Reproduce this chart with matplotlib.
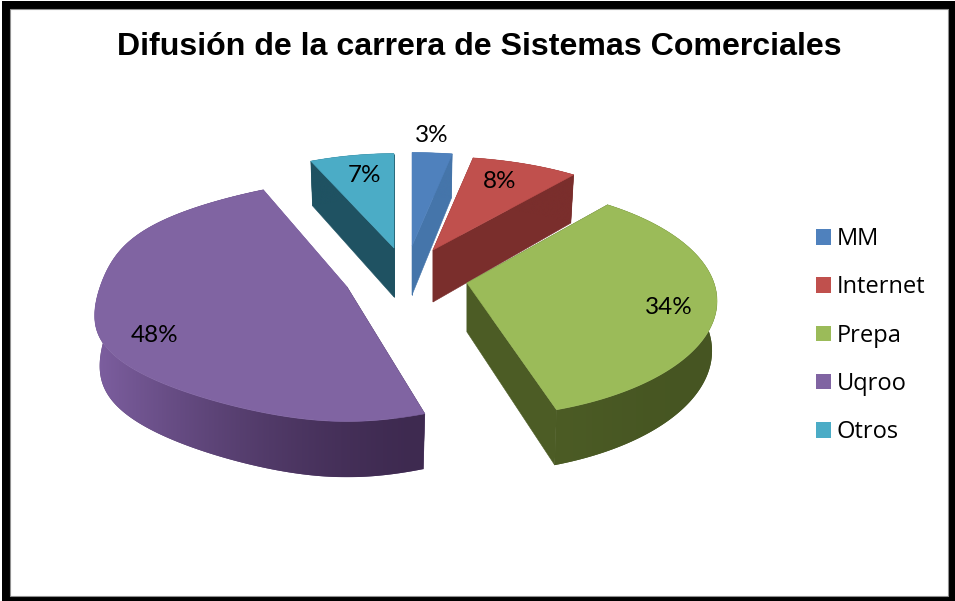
import numpy as np
import matplotlib
matplotlib.use('Agg')
import matplotlib.pyplot as plt
from matplotlib.colors import to_rgb
from matplotlib.patches import Polygon, Rectangle, Patch

TITLE = 'Difusión de la carrera de Sistemas Comerciales'
categories = ['MM', 'Internet', 'Prepa', 'Uqroo', 'Otros']
percent = [3, 8, 34, 48, 7]
top_colors = ['#4f81bd', '#c0504d', '#9bbb59', '#8064a2', '#4bacc6']

# wall colour at the start and end angle of each slice
wall_from = ['#4575aa', '#7a2e2c', '#465522', '#3e2a50', '#1f5262']
wall_to = ['#4575aa', '#7a2e2c', '#4c5c25', '#7d5fa0', '#1f5262']

# pie look, in pixels
RADIUS = 247.0
TILT = 0.46
PERSP = 0.155
depth = [49, 52, 49, 49, 49]
# where each exploded slice has its centre
centers = [(412, 246), (433, 250), (467, 283), (347, 287), (394, 248)]
# horizontal squeeze and bulge of the slices left of the middle
squeeze = [0, 0, 0, 0.18, 0.12]
bulge = [0, 0, 0, 0.11, 0]
# how far the back of each slice reaches
back = [0.95, 0.95, 1.0, 1.086, 0.96]
# label places
label_xy = [(432, 135), (500, 182), (669, 307), (155, 335), (364, 176)]

z = [2]


def next_z():
    z[0] += 1
    return z[0]


def offsets(i, t):
    s = RADIUS / (1 + PERSP * np.cos(t))
    q = (1 - squeeze[i] * np.cos(t) ** 2) * (1 + bulge[i] * np.sin(2 * t) ** 2)
    b = 1 + (back[i] - 1) * max(np.cos(t), 0)
    return q * s * np.sin(t), b * s * TILT * np.cos(t)


def top_point(i, t):
    c = centers[i]
    dx, dy = offsets(i, t)
    return c[0] + dx, c[1] - dy


def bottom_point(i, t):
    c = centers[i]
    dx, dy = offsets(i, t)
    return c[0] + 0.98 * dx, c[1] + depth[i] - 1.05 * dy


def draw_rim(ax, i, ts):
    rim = [top_point(i, t) for t in ts] + [bottom_point(i, t) for t in ts[::-1]]
    xs = [p[0] for p in rim]
    ys = [p[1] for p in rim]
    a = np.array(to_rgb(wall_from[i]))
    b = np.array(to_rgb(wall_to[i]))

    # soft edge below, gradient on top
    poly = Polygon(rim, closed=True, fc=tuple(a + (b - a) * 0.4), ec='none', zorder=next_z())
    ax.add_patch(poly)
    f = np.linspace(0, 1, 256) ** 1.6
    if xs[0] > xs[len(ts) - 1]:
        f = f[::-1]
    grad = (a + (b - a) * f[:, None])[None, :, :]
    im = ax.imshow(grad, extent=(min(xs), max(xs), max(ys), min(ys)), aspect='auto',
                   interpolation='bilinear', zorder=next_z())
    im.set_clip_path(poly)


def draw_slice(ax, i, t0, t1):
    c = centers[i]
    ts = np.linspace(t0, t1, int(np.degrees(t1 - t0)) * 2 + 2)
    cb = (c[0], c[1] + depth[i])

    # flat sides
    for t, col in ((t0, wall_from[i]), (t1, wall_to[i])):
        side = [c, top_point(i, t), bottom_point(i, t), cb]
        ax.add_patch(Polygon(side, closed=True, fc=col, ec=col, lw=0.4, zorder=next_z()))

    draw_rim(ax, i, ts)

    # top
    face = [c] + [top_point(i, t) for t in ts]
    ax.add_patch(Polygon(face, closed=True, fc=top_colors[i], ec=top_colors[i], lw=0.4,
                         zorder=next_z()))


fig = plt.figure(figsize=(9.55, 6.01), dpi=100)
ax = fig.add_axes([0, 0, 1, 1])
ax.axis('off')

# chart frame
ax.add_patch(Rectangle((2, 1), 953, 600, fc='black', ec='none', zorder=1))
ax.add_patch(Rectangle((10, 9), 938, 587, fc='white', ec='#909090', lw=0.8, zorder=2))

edges = np.radians(np.cumsum([0] + percent) / sum(percent) * 360.0)
for i in [4, 0, 1, 2, 3]:
    draw_slice(ax, i, edges[i], edges[i + 1])

ax.set_xlim(0, 955)
ax.set_ylim(601, 0)

for i, p in enumerate(percent):
    ax.text(label_xy[i][0], label_xy[i][1], '%d%%' % p, family='Lato', fontsize=17.5,
            color='black', ha='center', va='center', zorder=100)

ax.text(479, 47, TITLE, family='Liberation Sans', fontweight='bold', fontsize=23.1,
        color='black', ha='center', va='center', zorder=100)

handles = [Patch(fc=c, ec='none') for c in top_colors]
leg = ax.legend(handles, categories, loc='upper left', bbox_to_anchor=(816 / 955, 1 - 227 / 601),
                frameon=False, prop={'family': 'Open Sans', 'size': 17},
                handlelength=0.64, handleheight=0.64, handletextpad=0.24,
                labelspacing=1.03, borderpad=0, borderaxespad=0)
leg.set_zorder(100)

fig.savefig('out.png', dpi=100)
